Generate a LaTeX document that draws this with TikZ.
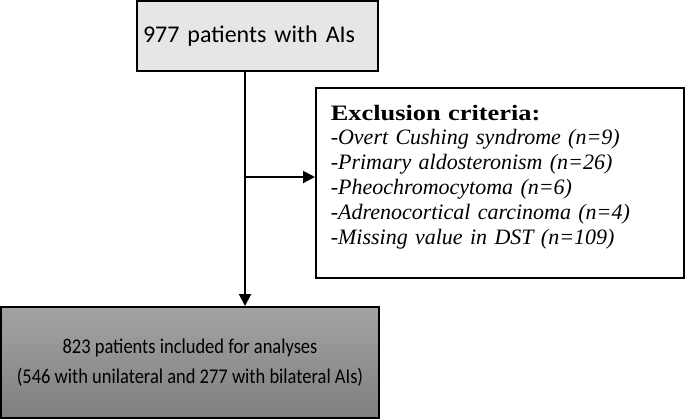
\documentclass[tikz,border=0pt]{standalone}
\usepackage{fontspec}
\setmainfont{Liberation Serif}
\newfontfamily\calibri{Carlito}
\newfontfamily\calibrinarrow[FakeStretch=0.88]{Carlito}
\newfontfamily\exclhead[FakeStretch=1.2]{Liberation Serif}
\usetikzlibrary{arrows.meta}
\definecolor{lightbox}{HTML}{E6E6E6}
\definecolor{darktop}{HTML}{A3A3A3}
\definecolor{darkbot}{HTML}{7F7F7F}
\tikzset{
  flowbox/.style={draw, line width=2bp, inner sep=0pt},
  exclbox/.style={draw, line width=1.5bp, fill=white, align=left, anchor=north west,
    inner xsep=15bp, inner ysep=17bp, text width=338bp, minimum width=368bp,
    font=\fontsize{22bp}{24.8bp}\selectfont},
  flow/.style={line width=2bp, -{Triangle[length=12bp,width=12bp]}}
}
\begin{document}
\begin{tikzpicture}[x=1bp,y=-1bp]
	\useasboundingbox (0,0) rectangle (685,419);
	\path(257.5,36)  node[flowbox, fill=lightbox, minimum width=241bp, minimum height=70bp,
		text width=229bp, align=left, inner xsep=6bp,
		font=\calibri\fontsize{24bp}{30bp}\selectfont](Start) {977 patients with AIs};
	\path(190,362.5) node[flowbox, top color=darktop, bottom color=darkbot, minimum width=377bp,
		minimum height=111bp, align=center,
		font=\calibrinarrow\fontsize{21bp}{30bp}\selectfont](Final) {823 patients included for analyses\\(546 with unilateral and 277 with bilateral AIs)};
	\path(315,87)    node[exclbox, text depth=141bp](Excl) {{\exclhead\bfseries Exclusion criteria:}\\
		\textit{-Overt Cushing syndrome (n=9)}\\
		\textit{-Primary aldosteronism (n=26)}\\
		\textit{-Pheochromocytoma (n=6)}\\
		\textit{-Adrenocortical carcinoma (n=4)}\\
		\textit{-Missing value in DST (n=109)}};
	\coordinate (Split) at (245,177);
	\draw[flow] (Split |- Start.south) -- (Split |- Final.north);
	\draw[flow] (Split) -- (Split -| Excl.west);
\end{tikzpicture}
\end{document}
